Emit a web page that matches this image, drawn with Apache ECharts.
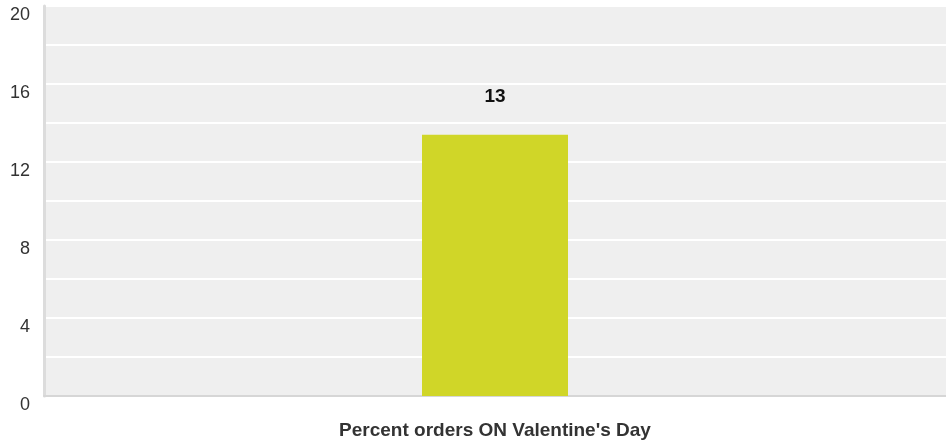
<!DOCTYPE html>
<html>
<head>
<meta charset="utf-8">
<script src="https://cdn.jsdelivr.net/npm/echarts@6/dist/echarts.min.js"></script>
<style>
html,body{margin:0;padding:0;background:#fff;}
#chart{width:946px;height:442px;}
</style>
</head>
<body>
<div id="chart"></div>
<script>
const categories = ["Percent orders ON Valentine's Day"];
const values = [13.4];
const yTicks = [0, 4, 8, 12, 16, 20];

const chart = echarts.init(document.getElementById('chart'), null, {renderer: 'canvas'});
chart.setOption({
  animation: false,
  backgroundColor: '#ffffff',
  grid: {
    left: 44, right: 0, top: 6, bottom: 46,
    show: true, backgroundColor: '#efefef', borderWidth: 0,
    containLabel: false
  },
  xAxis: {
    type: 'category',
    data: categories,
    axisLine: {show: true, lineStyle: {color: '#d6d6d6', width: 2}},
    axisTick: {show: false},
    axisLabel: {
      margin: 25,
      color: '#333333',
      fontFamily: 'Arial, "Liberation Sans", sans-serif',
      fontSize: 19,
      fontWeight: 'bold'
    },
    splitLine: {show: false}
  },
  yAxis: {
    type: 'value',
    min: 0, max: 20, interval: 2,
    axisLine: {show: true, lineStyle: {color: '#dcdcdc', width: 3}},
    axisTick: {show: false},
    axisLabel: {
      margin: 14,
      color: '#333333',
      fontFamily: 'Arial, "Liberation Sans", sans-serif',
      fontSize: 18,
      verticalAlign: 'top',
      formatter: function (v) { return yTicks.indexOf(v) >= 0 ? String(v) : ''; }
    },
    splitLine: {show: true, lineStyle: {color: '#ffffff', width: 2}}
  },
  series: [{
    type: 'bar',
    data: values,
    barWidth: 146,
    itemStyle: {color: '#d0d628'},
    label: {
      show: true,
      position: 'top',
      distance: 28,
      color: '#111111',
      fontFamily: 'Arial, "Liberation Sans", sans-serif',
      fontSize: 19,
      fontWeight: 'bold',
      formatter: function (p) { return Math.round(p.value); }
    }
  }]
});
</script>
</body>
</html>
